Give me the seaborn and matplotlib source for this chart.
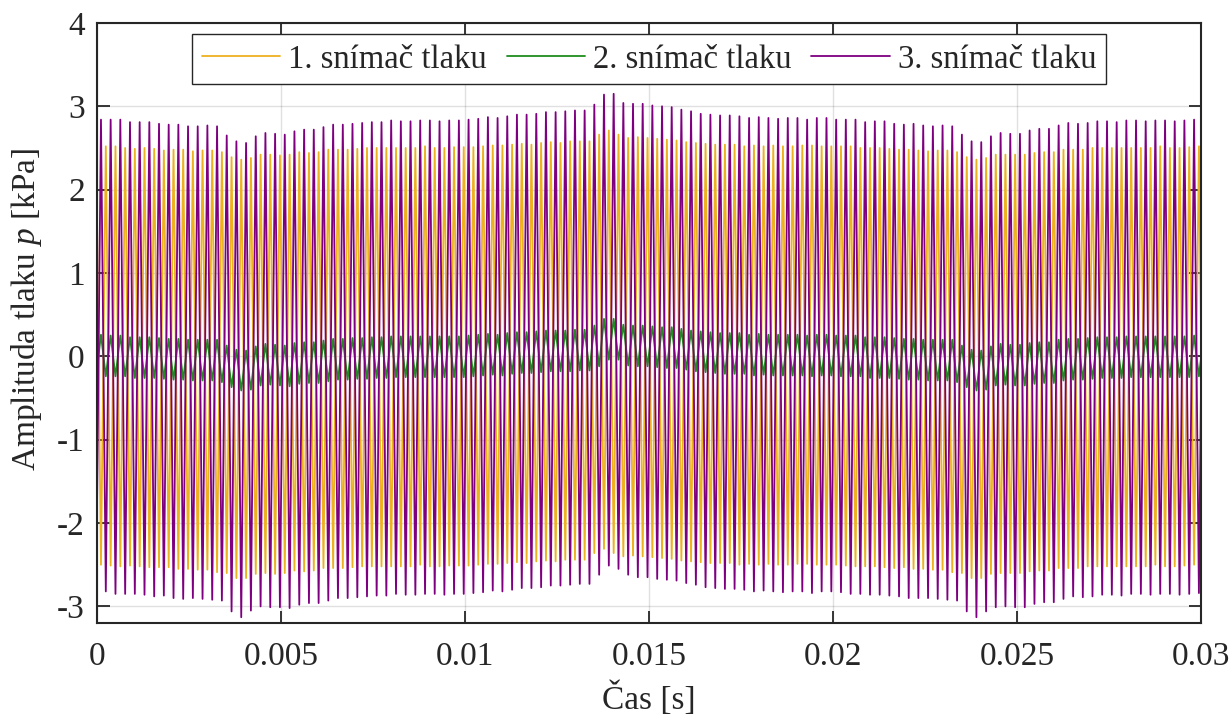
import numpy as np
import pandas as pd
import matplotlib.pyplot as plt
import seaborn as sns

sns.set_theme(style="white")
plt.rcParams['font.family'] = ['Liberation Serif', 'DejaVu Serif']
plt.rcParams['mathtext.fontset'] = 'custom'
plt.rcParams['mathtext.rm'] = 'Liberation Serif'
plt.rcParams['mathtext.it'] = 'Liberation Serif:italic'

# časová osa: první maximum 3. snímače a perioda kmitu
first_peak = 0.0001
period = 0.000263

labels = ['1. snímač tlaku', '2. snímač tlaku', '3. snímač tlaku']
colors = ['#EDB120', '#1E8C1E', '#7E0080']

# 1. snímač: maxima (první před t=0) a minima po periodách [kPa]
s1_max = [2.52,
          2.52, 2.52, 2.50, 2.49, 2.50, 2.49, 2.47, 2.48, 2.48, 2.46, 2.47, 2.47, 2.45, 2.39, 2.36, 2.38, 2.42, 2.42, 2.41,
          2.42, 2.45, 2.44, 2.45, 2.48, 2.48, 2.48, 2.49, 2.50, 2.50, 2.50, 2.50, 2.50, 2.50, 2.52, 2.50, 2.50, 2.51, 2.51,
          2.51, 2.52, 2.53, 2.53, 2.54, 2.55, 2.54, 2.56, 2.57, 2.56, 2.58, 2.58, 2.58, 2.66, 2.71, 2.66, 2.62, 2.63, 2.62,
          2.61, 2.60, 2.59, 2.57, 2.56, 2.55, 2.54, 2.54, 2.54, 2.52, 2.53, 2.52, 2.53, 2.52, 2.52, 2.53, 2.53, 2.52, 2.52,
          2.52, 2.52, 2.50, 2.50, 2.50, 2.49, 2.48, 2.48, 2.47, 2.46, 2.47, 2.47, 2.45, 2.39, 2.36, 2.38, 2.42, 2.42, 2.42,
          2.42, 2.44, 2.45, 2.45, 2.48, 2.48, 2.48, 2.50, 2.50, 2.50, 2.50, 2.50, 2.50, 2.50, 2.52, 2.50, 2.50, 2.51, 2.52]
s1_min = [-2.50, -2.51, -2.52, -2.51, -2.52, -2.53, -2.53, -2.53, -2.55, -2.55, -2.56, -2.56, -2.59, -2.60, -2.66, -2.66, -2.61, -2.60, -2.61,
          -2.60, -2.57, -2.58, -2.57, -2.54, -2.54, -2.54, -2.53, -2.52, -2.52, -2.52, -2.52, -2.52, -2.52, -2.50, -2.52, -2.52, -2.51, -2.51,
          -2.51, -2.50, -2.49, -2.49, -2.48, -2.47, -2.48, -2.46, -2.45, -2.46, -2.44, -2.44, -2.44, -2.36, -2.31, -2.36, -2.40, -2.39, -2.40,
          -2.41, -2.42, -2.43, -2.45, -2.46, -2.47, -2.48, -2.48, -2.48, -2.50, -2.49, -2.50, -2.49, -2.50, -2.50, -2.49, -2.49, -2.50, -2.50,
          -2.50, -2.51, -2.52, -2.52, -2.52, -2.53, -2.54, -2.53, -2.55, -2.55, -2.56, -2.56, -2.59, -2.60, -2.66, -2.66, -2.61, -2.60, -2.60,
          -2.60, -2.58, -2.57, -2.57, -2.54, -2.54, -2.54, -2.52, -2.52, -2.52, -2.52, -2.52, -2.52, -2.52, -2.50, -2.52, -2.52, -2.51, -2.50,
          -2.51]

# 2. snímač: minima (první před t=0) a maxima [kPa]
s2_min = [-0.24,
          -0.24, -0.24, -0.24, -0.26, -0.26, -0.26, -0.27, -0.28, -0.28, -0.29, -0.29, -0.29, -0.31, -0.37, -0.41, -0.40, -0.35, -0.34, -0.35,
          -0.36, -0.33, -0.32, -0.32, -0.30, -0.28, -0.28, -0.27, -0.27, -0.26, -0.26, -0.25, -0.25, -0.25, -0.25, -0.25, -0.25, -0.25, -0.25,
          -0.24, -0.23, -0.22, -0.23, -0.21, -0.20, -0.20, -0.19, -0.18, -0.18, -0.18, -0.17, -0.17, -0.12, -0.04, -0.04, -0.11, -0.12, -0.12,
          -0.13, -0.14, -0.14, -0.16, -0.18, -0.19, -0.20, -0.21, -0.21, -0.21, -0.23, -0.22, -0.23, -0.23, -0.23, -0.23, -0.24, -0.23, -0.23,
          -0.24, -0.24, -0.24, -0.26, -0.26, -0.26, -0.27, -0.28, -0.28, -0.29, -0.29, -0.29, -0.31, -0.37, -0.41, -0.40, -0.35, -0.34, -0.35,
          -0.35, -0.33, -0.32, -0.32, -0.29, -0.28, -0.28, -0.27, -0.26, -0.26, -0.26, -0.25, -0.25, -0.25, -0.25, -0.25, -0.25, -0.25, -0.24]
s2_max = [0.26, 0.25, 0.25, 0.23, 0.23, 0.23, 0.22, 0.21, 0.21, 0.20, 0.20, 0.20, 0.20, 0.13, 0.08, 0.07, 0.12, 0.15, 0.14,
          0.13, 0.16, 0.17, 0.17, 0.19, 0.21, 0.21, 0.22, 0.22, 0.23, 0.23, 0.24, 0.24, 0.24, 0.24, 0.24, 0.24, 0.24, 0.24,
          0.25, 0.26, 0.27, 0.26, 0.28, 0.29, 0.29, 0.30, 0.31, 0.31, 0.31, 0.32, 0.32, 0.37, 0.45, 0.45, 0.38, 0.37, 0.37,
          0.36, 0.35, 0.35, 0.33, 0.31, 0.30, 0.29, 0.28, 0.28, 0.28, 0.26, 0.27, 0.26, 0.26, 0.26, 0.26, 0.25, 0.26, 0.26,
          0.25, 0.25, 0.25, 0.23, 0.23, 0.23, 0.22, 0.21, 0.21, 0.20, 0.20, 0.20, 0.20, 0.13, 0.08, 0.07, 0.12, 0.15, 0.14,
          0.14, 0.16, 0.17, 0.17, 0.20, 0.21, 0.21, 0.22, 0.23, 0.23, 0.23, 0.24, 0.24, 0.24, 0.24, 0.24, 0.24, 0.24, 0.25,
          0.25]

# 3. snímač: minima (první před t=0) a maxima [kPa]
s3_min = [-2.84,
          -2.82, -2.85, -2.85, -2.85, -2.86, -2.88, -2.87, -2.90, -2.91, -2.90, -2.91, -2.92, -2.93, -3.06, -3.13, -3.05, -3.00, -3.01, -3.01,
          -3.02, -2.98, -2.96, -2.96, -2.93, -2.90, -2.90, -2.89, -2.88, -2.87, -2.87, -2.85, -2.86, -2.86, -2.85, -2.85, -2.86, -2.85, -2.85,
          -2.84, -2.83, -2.81, -2.82, -2.80, -2.78, -2.78, -2.77, -2.75, -2.75, -2.74, -2.73, -2.73, -2.62, -2.51, -2.55, -2.62, -2.65, -2.65,
          -2.67, -2.68, -2.69, -2.72, -2.74, -2.77, -2.78, -2.79, -2.79, -2.80, -2.82, -2.81, -2.82, -2.83, -2.82, -2.82, -2.84, -2.82, -2.82,
          -2.83, -2.85, -2.85, -2.86, -2.86, -2.87, -2.88, -2.90, -2.90, -2.90, -2.91, -2.92, -2.93, -3.06, -3.13, -3.06, -3.01, -3.00, -3.01,
          -3.01, -2.97, -2.95, -2.95, -2.91, -2.88, -2.89, -2.88, -2.86, -2.86, -2.87, -2.85, -2.85, -2.86, -2.85, -2.85, -2.86, -2.85, -2.84]
s3_max = [2.84, 2.84, 2.84, 2.81, 2.81, 2.81, 2.79, 2.78, 2.78, 2.76, 2.76, 2.77, 2.76, 2.65, 2.58, 2.56, 2.64, 2.68, 2.67,
          2.66, 2.70, 2.72, 2.72, 2.75, 2.78, 2.78, 2.79, 2.80, 2.81, 2.81, 2.83, 2.82, 2.82, 2.83, 2.83, 2.82, 2.83, 2.83,
          2.84, 2.85, 2.87, 2.86, 2.88, 2.90, 2.90, 2.91, 2.93, 2.93, 2.94, 2.95, 2.95, 3.02, 3.14, 3.15, 3.04, 3.03, 3.03,
          3.01, 3.00, 2.99, 2.96, 2.94, 2.91, 2.90, 2.89, 2.89, 2.88, 2.86, 2.87, 2.86, 2.85, 2.86, 2.86, 2.84, 2.86, 2.86,
          2.84, 2.84, 2.84, 2.81, 2.82, 2.82, 2.79, 2.78, 2.79, 2.77, 2.76, 2.77, 2.76, 2.66, 2.58, 2.57, 2.64, 2.68, 2.67,
          2.67, 2.71, 2.73, 2.73, 2.77, 2.80, 2.79, 2.80, 2.82, 2.82, 2.81, 2.83, 2.83, 2.82, 2.83, 2.83, 2.82, 2.83, 2.84,
          2.84]


def zigzag(first, second):
    # střídání extrémů po půlperiodách
    vals = np.empty(len(first) + len(second))
    vals[0::2] = first
    vals[1::2] = second
    return vals


series = [zigzag(s1_max, s1_min), zigzag(s2_min, s2_max), zigzag(s3_min, s3_max)]
n = len(series[0])
t = first_peak + period * (np.arange(n) - 1) / 2

df = pd.concat([pd.DataFrame({'t': t, 'p': v, 'snimac': lab}) for v, lab in zip(series, labels)])

fig = plt.figure(figsize=(12.3, 7.17), dpi=100)
ax = fig.add_axes([0.0791, 0.131, 0.8971, 0.837])

sns.lineplot(data=df, x='t', y='p', hue='snimac', hue_order=labels, palette=colors,
             estimator=None, sort=False, linewidth=1.3, ax=ax)

ax.set_xlim(0, 0.03)
ax.set_ylim(-3.2, 4)
ax.set_xticks([0, 0.005, 0.01, 0.015, 0.02, 0.025, 0.03])
ax.set_xticklabels(['0', '0.005', '0.01', '0.015', '0.02', '0.025', '0.03'])
ax.set_yticks(range(-3, 5))
ax.set_yticklabels([str(v) for v in range(-3, 5)])
ax.grid(True, color='#000000', alpha=0.12, linewidth=1)
ax.tick_params(direction='in', length=9, width=1.3, colors='#262626', labelsize=24,
               top=True, right=True, bottom=True, left=True)
ax.tick_params(axis='x', pad=13)
ax.tick_params(axis='y', pad=9)
for s in ax.spines.values():
    s.set_color('#262626')
    s.set_linewidth(1.5)

ax.set_xlabel('Čas [s]', fontsize=24, color='#262626', labelpad=7)
ax.set_ylabel('Amplituda tlaku $p$ [kPa]', fontsize=24, color='#262626')
ax.yaxis.set_label_coords(-0.048, 0.523)

handles = [plt.Line2D([], [], color=c, linewidth=1.3) for c in colors]
ax.legend(handles, labels, loc='upper center', ncol=3, fontsize=23.5, frameon=True, fancybox=False,
          framealpha=1, edgecolor='#262626', handlelength=2.4, handletextpad=0.25, columnspacing=0.6,
          borderpad=0.3, borderaxespad=0.35)
ax.get_legend().get_frame().set_linewidth(1.0)

fig.savefig('out.png', dpi=100)
